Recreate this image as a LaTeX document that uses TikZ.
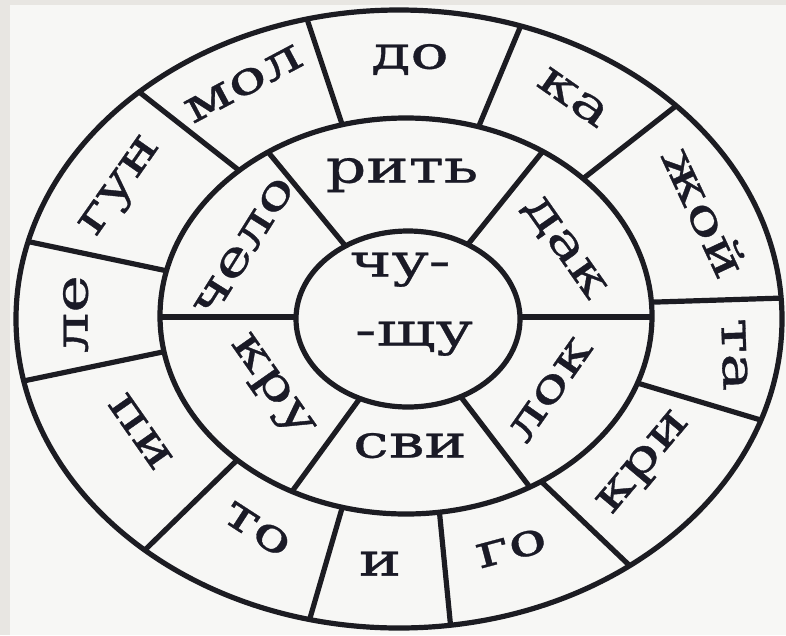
\documentclass[tikz,border=0pt]{standalone}
\usepackage{fontspec}
\setmainfont{DejaVu Serif}
\newfontfamily\lblfont{DejaVu Serif}[FakeBold=0.6]
\usepackage{graphicx}
\usetikzlibrary{calc}
\definecolor{paper}{HTML}{F7F7F5}
\definecolor{stripc}{HTML}{E8E6E2}
\definecolor{inkc}{HTML}{1C1C22}
\definecolor{txtc}{HTML}{1A1A26}
\newcommand{\wtxt}[1]{\scalebox{1.38}[1]{#1}}
\begin{document}
\begin{tikzpicture}[x=1pt,y=-1pt,
  ink/.style={line width=5.2pt, draw=inkc},
  lbl/.style={font=\lblfont\fontsize{46}{46}\selectfont, text=txtc, inner sep=0pt,
              text height=0.52em, text depth=0pt, anchor=center}]
\useasboundingbox (0,0) rectangle (786,635);
\fill[paper] (0,0) rectangle (786,635);
\fill[stripc] (0,0) rectangle (10,635);
\fill[stripc] (0,0) rectangle (786,5);

% outer ring spokes
\begin{scope}
  \clip (399,319) ellipse [x radius=383, y radius=309];
  \foreach \mx/\my/\ox/\oy in {236/168/143/95, 341/121/308/22, 481/121/519/30,
      589/174/672/109, 657/302/784/298, 644/385/764/421, 546/486/629/565,
      441/528/451/630, 338/522/308/625, 231/466/150/545, 153/354/33/379,
      158/269/35/243}
    \draw[ink] ($(\mx,\my)!-0.3!(\ox,\oy)$) -- ($(\ox,\oy)!-0.3!(\mx,\my)$);
\end{scope}
\fill[paper] (406,316) ellipse [x radius=246, y radius=198];

% middle ring spokes
\begin{scope}
  \clip (406,316) ellipse [x radius=246, y radius=198];
  \foreach \ix/\iy/\mx/\my in {343/243/273/158, 469/243/539/156, 521/317/647/317,
      464/401/529/486, 358/401/296/486, 296/317/165/317}
    \draw[ink] ($(\ix,\iy)!-0.3!(\mx,\my)$) -- ($(\mx,\my)!-0.3!(\ix,\iy)$);
\end{scope}
\fill[paper] (408,319) ellipse [x radius=112, y radius=88];

% rings
\draw[ink] (399,319) ellipse [x radius=383, y radius=309];
\draw[ink] (406,316) ellipse [x radius=246, y radius=198];
\draw[ink] (408,319) ellipse [x radius=112, y radius=88];

% outer ring labels
\node[lbl] (do)  at (410,66)  {\wtxt{до}};
\node[lbl, rotate=-35] (ka) at (568,105) {\wtxt{ка}};
\node[lbl, rotate=-65] (zhoy) at (692,218) {\wtxt{жой}};
\node[lbl, rotate=-88] (ta) at (725,355) {\wtxt{та}};
\node[lbl, rotate=50] (kri) at (649,467) {\wtxt{кри}};
\node[lbl, rotate=15] (go) at (514,557) {\wtxt{го}};
\node[lbl] (i) at (380,573) {\wtxt{и}};
\node[lbl, rotate=-33] (to) at (252,537) {\wtxt{то}};
\node[lbl, rotate=-55] (pi) at (133,437) {\wtxt{пи}};
\node[lbl, rotate=90] (le) at (85,314) {\wtxt{ле}};
\node[lbl, rotate=55] (gun) at (126,190) {\wtxt{гун}};
\node[lbl, rotate=28] (mol) at (248,92) {\wtxt{мол}};

% middle ring labels
\node[lbl] (rit) at (402,180) {\wtxt{рить}};
\node[lbl, rotate=-55] (dak) at (558,252) {\wtxt{дак}};
\node[lbl, rotate=55] (lok) at (558,395) {\wtxt{лок}};
\node[lbl] (svi) at (410,455) {\wtxt{сви}};
\node[lbl, rotate=-55] (kru) at (266,390) {\wtxt{кру}};
\node[lbl, rotate=58] (chelo) at (252,252) {\wtxt{чело}};

% centre
\node[lbl] (chu) at (400,274) {\wtxt{чу-}};
\node[lbl] (schu) at (414,343) {\wtxt{-щу}};
\end{tikzpicture}
\end{document}
